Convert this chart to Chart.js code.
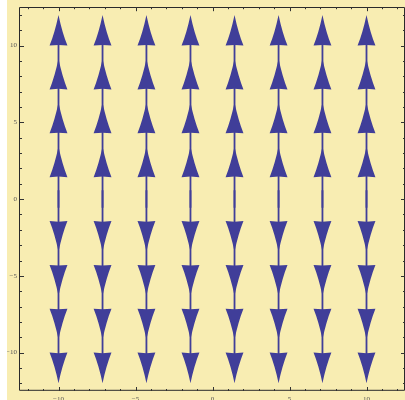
<!DOCTYPE html>
<html>
<head>
<meta charset="utf-8">
<script src="https://cdn.jsdelivr.net/npm/chart.js@4.4.1/dist/chart.umd.min.js"></script>
<style>
  html, body { margin: 0; padding: 0; background: #ffffff; }
  body { width: 405px; height: 400px; position: relative; overflow: hidden; }
  #c { position: absolute; left: 7px; top: 0; }
</style>
</head>
<body>
<canvas id="c" width="398" height="400"></canvas>
<script>
// ---- data ----
const gridX = [-10, -7.14, -4.29, -1.43, 1.43, 4.29, 7.14, 10];
const gridY = [-10, -7.14, -4.29, -1.43, 1.43, 4.29, 7.14, 10];
const vyByRow = [-1, -1, -1, -1, 1, 1, 1, 1];   // vertical direction per row (same order as gridY)
const tickValues = [-10, -5, 0, 5, 10];
const axisMin = -12.5, axisMax = 12.5;

const ARROW_COLOR = '#403e99';
const BG = '#f8edb2';

const points = [];
gridY.forEach((y, j) => gridX.forEach(x => points.push({ x: x, y: y, vy: vyByRow[j] })));

const fmt = v => (v < 0 ? '\u2212' + Math.abs(v) : String(v));

const bgPlugin = {
  id: 'bg',
  beforeDraw(chart) {
    const ctx = chart.ctx;
    ctx.save();
    ctx.fillStyle = BG;
    ctx.fillRect(0, 0, chart.width, chart.height);
    ctx.restore();
  }
};

const arrowPlugin = {
  id: 'arrows',
  afterDatasetsDraw(chart) {
    const ctx = chart.ctx;
    const xs = chart.scales.x, ys = chart.scales.y;
    const meta = chart.getDatasetMeta(0);
    const ds = chart.data.datasets[0].data;
    const halfLen = 2.0;    // data units from centre to tip
    const headLen = 2.0;    // data units
    const headHalfW = 0.58; // data units
    ctx.save();
    ctx.beginPath();
    ctx.rect(chart.chartArea.left, chart.chartArea.top, chart.chartArea.right - chart.chartArea.left, chart.chartArea.bottom - chart.chartArea.top);
    ctx.clip();
    ctx.strokeStyle = ARROW_COLOR;
    ctx.lineWidth = 1.8;
    meta.data.forEach((el, i) => {
      const p = ds[i];
      const px = el.x;
      const tail = ys.getPixelForValue(p.y - halfLen * p.vy);
      const base = ys.getPixelForValue(p.y + (halfLen - headLen + 0.3) * p.vy);
      ctx.beginPath();
      ctx.moveTo(px, tail);
      ctx.lineTo(px, base);
      ctx.stroke();
    });
    ctx.fillStyle = ARROW_COLOR;
    meta.data.forEach((el, i) => {
      const p = ds[i];
      const px = el.x;
      const tipY = ys.getPixelForValue(p.y + halfLen * p.vy);
      const baseY = ys.getPixelForValue(p.y + (halfLen - headLen) * p.vy);
      const notchY = ys.getPixelForValue(p.y + (halfLen - headLen + 0.04) * p.vy);
      const wpx = xs.getPixelForValue(p.x + headHalfW) - px;
      const L = tipY - baseY;
      ctx.beginPath();
      ctx.moveTo(px, tipY);
      ctx.quadraticCurveTo(px + wpx * 0.42, baseY + L * 0.42, px + wpx, baseY);
      ctx.lineTo(px, notchY);
      ctx.lineTo(px - wpx, baseY);
      ctx.quadraticCurveTo(px - wpx * 0.42, baseY + L * 0.42, px, tipY);
      ctx.closePath();
      ctx.fill();
    });
    ctx.restore();
  }
};

const framePlugin = {
  id: 'frame',
  afterDraw(chart) {
    const ctx = chart.ctx;
    const a = chart.chartArea;
    const xs = chart.scales.x, ys = chart.scales.y;
    ctx.save();
    ctx.strokeStyle = '#2a2a2a';
    ctx.lineWidth = 1;
    ctx.beginPath();
    ctx.rect(Math.round(a.left) - 0.5, Math.round(a.top) + 0.5, a.right - a.left, a.bottom - a.top - 1);
    ctx.stroke();
    ctx.strokeStyle = '#333';
    for (let v = -12; v <= 12; v++) {
      const len = v % 5 === 0 ? 4 : 2;
      const px = Math.round(xs.getPixelForValue(v)) + 0.5;
      const py = Math.round(ys.getPixelForValue(v)) + 0.5;
      ctx.beginPath();
      ctx.moveTo(px, a.bottom); ctx.lineTo(px, a.bottom - len);
      ctx.moveTo(px, a.top); ctx.lineTo(px, a.top + len);
      ctx.moveTo(a.left, py); ctx.lineTo(a.left + len, py);
      ctx.moveTo(a.right, py); ctx.lineTo(a.right - len, py);
      ctx.stroke();
    }
    ctx.restore();
  }
};

new Chart(document.getElementById('c'), {
  type: 'scatter',
  data: {
    datasets: [{
      data: points,
      pointRadius: 0,
      pointHoverRadius: 0,
      showLine: false
    }]
  },
  options: {
    responsive: false,
    animation: false,
    devicePixelRatio: 1,
    layout: { padding: { top: 5, right: 0, left: 0, bottom: 0 } },
    plugins: { legend: { display: false }, tooltip: { enabled: false } },
    scales: {
      x: {
        type: 'linear', min: axisMin, max: axisMax,
        grid: { display: false, drawTicks: false },
        border: { display: false },
        afterBuildTicks: s => { s.ticks = tickValues.map(v => ({ value: v })); },
        afterFit: s => { s.height = 9; },
        ticks: { callback: v => fmt(v), color: '#555', padding: 4, maxRotation: 0, autoSkip: false,
                 font: { family: 'Liberation Serif', size: 7 } }
      },
      y: {
        type: 'linear', min: axisMin, max: axisMax,
        grid: { display: false, drawTicks: false },
        border: { display: false },
        afterBuildTicks: s => { s.ticks = tickValues.map(v => ({ value: v })); },
        afterFit: s => { s.width = 13; },
        ticks: { callback: v => fmt(v), color: '#555', padding: 3, autoSkip: false,
                 font: { family: 'Liberation Serif', size: 7 } }
      }
    }
  },
  plugins: [bgPlugin, arrowPlugin, framePlugin]
});
</script>
</body>
</html>
